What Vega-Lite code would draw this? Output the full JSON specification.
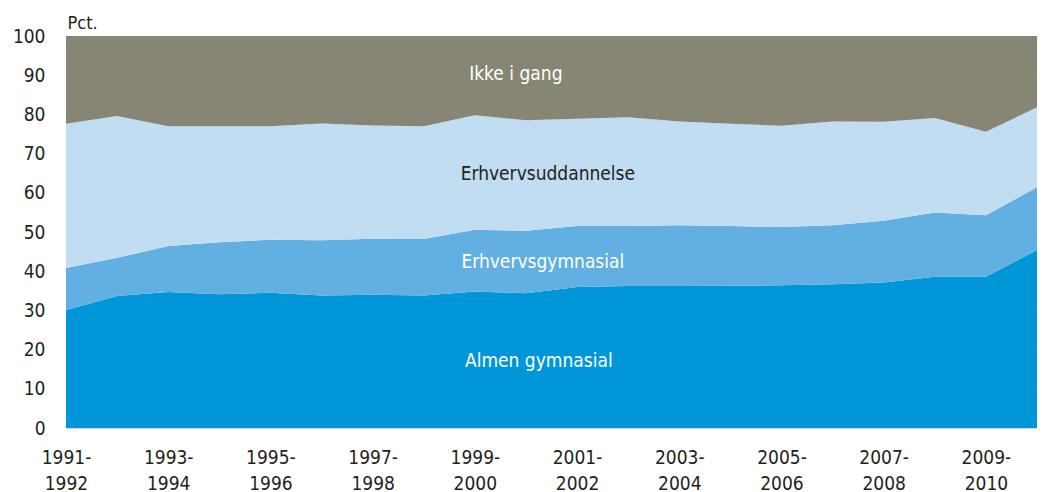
{
  "$schema": "https://vega.github.io/schema/vega-lite/v6.json",
  "autosize": "none",
  "width": 971,
  "height": 392,
  "padding": {"left": 66, "top": 36, "right": 5, "bottom": 64},
  "background": "white",
  "config": {
    "font": "Liberation Sans Narrow, DejaVu Sans Condensed, sans-serif",
    "view": {"stroke": null},
    "axis": {"labelOverlap": false},
    "axisY": {
      "title": "Pct.",
      "titleAngle": 0,
      "titleAlign": "left",
      "titleBaseline": "alphabetic",
      "titleX": 1,
      "titleY": -8,
      "titleFontSize": 18,
      "titleFontWeight": "normal",
      "titleColor": "#231f20",
      "labelFontSize": 19,
      "labelColor": "#231f20",
      "labelPadding": 21,
      "labelOverlap": false,
      "domain": false,
      "ticks": false,
      "grid": true,
      "gridColor": "#d9d9d9"
    }
  },
  "datasets": {
    "shares": [
      {"period": "1991-1992", "series": "Almen gymnasial", "value": 30.1},
      {"period": "1992-1993", "series": "Almen gymnasial", "value": 33.7},
      {"period": "1993-1994", "series": "Almen gymnasial", "value": 34.7},
      {"period": "1994-1995", "series": "Almen gymnasial", "value": 34.1},
      {"period": "1995-1996", "series": "Almen gymnasial", "value": 34.5},
      {"period": "1996-1997", "series": "Almen gymnasial", "value": 33.8},
      {"period": "1997-1998", "series": "Almen gymnasial", "value": 34.0},
      {"period": "1998-1999", "series": "Almen gymnasial", "value": 33.8},
      {"period": "1999-2000", "series": "Almen gymnasial", "value": 34.8},
      {"period": "2000-2001", "series": "Almen gymnasial", "value": 34.4},
      {"period": "2001-2002", "series": "Almen gymnasial", "value": 36.0},
      {"period": "2002-2003", "series": "Almen gymnasial", "value": 36.2},
      {"period": "2003-2004", "series": "Almen gymnasial", "value": 36.2},
      {"period": "2004-2005", "series": "Almen gymnasial", "value": 36.3},
      {"period": "2005-2006", "series": "Almen gymnasial", "value": 36.4},
      {"period": "2006-2007", "series": "Almen gymnasial", "value": 36.7},
      {"period": "2007-2008", "series": "Almen gymnasial", "value": 37.1},
      {"period": "2008-2009", "series": "Almen gymnasial", "value": 38.6},
      {"period": "2009-2010", "series": "Almen gymnasial", "value": 38.6},
      {"period": "2010-2011", "series": "Almen gymnasial", "value": 45.4},
      {"period": "1991-1992", "series": "Erhvervsgymnasial", "value": 10.7},
      {"period": "1992-1993", "series": "Erhvervsgymnasial", "value": 9.7},
      {"period": "1993-1994", "series": "Erhvervsgymnasial", "value": 11.7},
      {"period": "1994-1995", "series": "Erhvervsgymnasial", "value": 13.3},
      {"period": "1995-1996", "series": "Erhvervsgymnasial", "value": 13.5},
      {"period": "1996-1997", "series": "Erhvervsgymnasial", "value": 14.1},
      {"period": "1997-1998", "series": "Erhvervsgymnasial", "value": 14.3},
      {"period": "1998-1999", "series": "Erhvervsgymnasial", "value": 14.4},
      {"period": "1999-2000", "series": "Erhvervsgymnasial", "value": 15.8},
      {"period": "2000-2001", "series": "Erhvervsgymnasial", "value": 15.9},
      {"period": "2001-2002", "series": "Erhvervsgymnasial", "value": 15.5},
      {"period": "2002-2003", "series": "Erhvervsgymnasial", "value": 15.3},
      {"period": "2003-2004", "series": "Erhvervsgymnasial", "value": 15.5},
      {"period": "2004-2005", "series": "Erhvervsgymnasial", "value": 15.2},
      {"period": "2005-2006", "series": "Erhvervsgymnasial", "value": 14.9},
      {"period": "2006-2007", "series": "Erhvervsgymnasial", "value": 15.0},
      {"period": "2007-2008", "series": "Erhvervsgymnasial", "value": 15.8},
      {"period": "2008-2009", "series": "Erhvervsgymnasial", "value": 16.4},
      {"period": "2009-2010", "series": "Erhvervsgymnasial", "value": 15.7},
      {"period": "2010-2011", "series": "Erhvervsgymnasial", "value": 16.0},
      {"period": "1991-1992", "series": "Erhvervsuddannelse", "value": 36.8},
      {"period": "1992-1993", "series": "Erhvervsuddannelse", "value": 36.2},
      {"period": "1993-1994", "series": "Erhvervsuddannelse", "value": 30.6},
      {"period": "1994-1995", "series": "Erhvervsuddannelse", "value": 29.6},
      {"period": "1995-1996", "series": "Erhvervsuddannelse", "value": 29.0},
      {"period": "1996-1997", "series": "Erhvervsuddannelse", "value": 29.8},
      {"period": "1997-1998", "series": "Erhvervsuddannelse", "value": 28.9},
      {"period": "1998-1999", "series": "Erhvervsuddannelse", "value": 28.8},
      {"period": "1999-2000", "series": "Erhvervsuddannelse", "value": 29.2},
      {"period": "2000-2001", "series": "Erhvervsuddannelse", "value": 28.2},
      {"period": "2001-2002", "series": "Erhvervsuddannelse", "value": 27.4},
      {"period": "2002-2003", "series": "Erhvervsuddannelse", "value": 27.8},
      {"period": "2003-2004", "series": "Erhvervsuddannelse", "value": 26.5},
      {"period": "2004-2005", "series": "Erhvervsuddannelse", "value": 26.1},
      {"period": "2005-2006", "series": "Erhvervsuddannelse", "value": 25.8},
      {"period": "2006-2007", "series": "Erhvervsuddannelse", "value": 26.5},
      {"period": "2007-2008", "series": "Erhvervsuddannelse", "value": 25.2},
      {"period": "2008-2009", "series": "Erhvervsuddannelse", "value": 24.1},
      {"period": "2009-2010", "series": "Erhvervsuddannelse", "value": 21.3},
      {"period": "2010-2011", "series": "Erhvervsuddannelse", "value": 20.4},
      {"period": "1991-1992", "series": "Ikke i gang", "value": 22.4},
      {"period": "1992-1993", "series": "Ikke i gang", "value": 20.4},
      {"period": "1993-1994", "series": "Ikke i gang", "value": 23.0},
      {"period": "1994-1995", "series": "Ikke i gang", "value": 23.0},
      {"period": "1995-1996", "series": "Ikke i gang", "value": 23.0},
      {"period": "1996-1997", "series": "Ikke i gang", "value": 22.3},
      {"period": "1997-1998", "series": "Ikke i gang", "value": 22.8},
      {"period": "1998-1999", "series": "Ikke i gang", "value": 23.0},
      {"period": "1999-2000", "series": "Ikke i gang", "value": 20.2},
      {"period": "2000-2001", "series": "Ikke i gang", "value": 21.5},
      {"period": "2001-2002", "series": "Ikke i gang", "value": 21.1},
      {"period": "2002-2003", "series": "Ikke i gang", "value": 20.7},
      {"period": "2003-2004", "series": "Ikke i gang", "value": 21.8},
      {"period": "2004-2005", "series": "Ikke i gang", "value": 22.4},
      {"period": "2005-2006", "series": "Ikke i gang", "value": 22.9},
      {"period": "2006-2007", "series": "Ikke i gang", "value": 21.8},
      {"period": "2007-2008", "series": "Ikke i gang", "value": 21.9},
      {"period": "2008-2009", "series": "Ikke i gang", "value": 20.9},
      {"period": "2009-2010", "series": "Ikke i gang", "value": 24.4},
      {"period": "2010-2011", "series": "Ikke i gang", "value": 18.2}
    ],
    "labels": [
      {"label": "Ikke i gang", "period": "1999-2000", "y": 90.3},
      {"label": "Erhvervsuddannelse", "period": "1999-2000", "y": 64.8},
      {"label": "Erhvervsgymnasial", "period": "1999-2000", "y": 42.3},
      {"label": "Almen gymnasial", "period": "1999-2000", "y": 17.1}
    ]
  },
  "layer": [
    {
      "data": {"name": "shares"},
      "mark": {"type": "area", "interpolate": "linear"},
      "encoding": {
        "x": {
          "field": "period",
          "type": "ordinal",
          "scale": {"type": "point", "padding": 0},
          "axis": {
            "title": null,
            "values": ["1991-1992", "1993-1994", "1995-1996", "1997-1998", "1999-2000", "2001-2002", "2003-2004", "2005-2006", "2007-2008", "2009-2010"],
            "labelExpr": "[slice(datum.label, 0, 5), slice(datum.label, 5)]",
            "labelAngle": 0,
            "labelFontSize": 19,
            "labelColor": "#231f20",
            "labelLineHeight": 26,
            "labelPadding": 20,
            "labelOverlap": false,
            "domain": false,
            "ticks": false,
            "grid": false
          }
        },
        "y": {
          "field": "value",
          "type": "quantitative",
          "stack": "zero",
          "scale": {"domain": [0, 100], "nice": false},
          "axis": {"title": "Pct.", "values": [0, 10, 20, 30, 40, 50, 60, 70, 80, 90, 100], "labelOverlap": false, "tickCount": 11}
        },
        "order": {"field": "series", "sort": "ascending"},
        "color": {
          "field": "series",
          "type": "nominal",
          "scale": {
            "domain": ["Almen gymnasial", "Erhvervsgymnasial", "Erhvervsuddannelse", "Ikke i gang"],
            "range": ["#0096d8", "#62afe1", "#c1ddf1", "#878574"]
          },
          "legend": null
        }
      }
    },
    {
      "data": {"name": "labels"},
      "transform": [{"filter": "datum.label === 'Ikke i gang'"}],
      "mark": {"type": "text", "fontSize": 19, "color": "#ffffff", "dx": 41, "align": "center", "baseline": "middle"},
      "encoding": {
        "x": {"field": "period", "type": "ordinal", "axis": {"title": null}},
        "y": {"field": "y", "type": "quantitative", "axis": {"title": "Pct.", "values": [0, 10, 20, 30, 40, 50, 60, 70, 80, 90, 100], "labelOverlap": false, "tickCount": 11}},
        "text": {"field": "label"}
      }
    },
    {
      "data": {"name": "labels"},
      "transform": [{"filter": "datum.label === 'Erhvervsuddannelse'"}],
      "mark": {"type": "text", "fontSize": 19, "color": "#231f20", "dx": 73, "align": "center", "baseline": "middle"},
      "encoding": {
        "x": {"field": "period", "type": "ordinal", "axis": {"title": null}},
        "y": {"field": "y", "type": "quantitative", "axis": {"title": "Pct.", "values": [0, 10, 20, 30, 40, 50, 60, 70, 80, 90, 100], "labelOverlap": false, "tickCount": 11}},
        "text": {"field": "label"}
      }
    },
    {
      "data": {"name": "labels"},
      "transform": [{"filter": "datum.label === 'Erhvervsgymnasial'"}],
      "mark": {"type": "text", "fontSize": 19, "color": "#ffffff", "dx": 68, "align": "center", "baseline": "middle"},
      "encoding": {
        "x": {"field": "period", "type": "ordinal", "axis": {"title": null}},
        "y": {"field": "y", "type": "quantitative", "axis": {"title": "Pct.", "values": [0, 10, 20, 30, 40, 50, 60, 70, 80, 90, 100], "labelOverlap": false, "tickCount": 11}},
        "text": {"field": "label"}
      }
    },
    {
      "data": {"name": "labels"},
      "transform": [{"filter": "datum.label === 'Almen gymnasial'"}],
      "mark": {"type": "text", "fontSize": 19, "color": "#ffffff", "dx": 64, "align": "center", "baseline": "middle"},
      "encoding": {
        "x": {"field": "period", "type": "ordinal", "axis": {"title": null}},
        "y": {"field": "y", "type": "quantitative", "axis": {"title": "Pct.", "values": [0, 10, 20, 30, 40, 50, 60, 70, 80, 90, 100], "labelOverlap": false, "tickCount": 11}},
        "text": {"field": "label"}
      }
    }
  ]
}
